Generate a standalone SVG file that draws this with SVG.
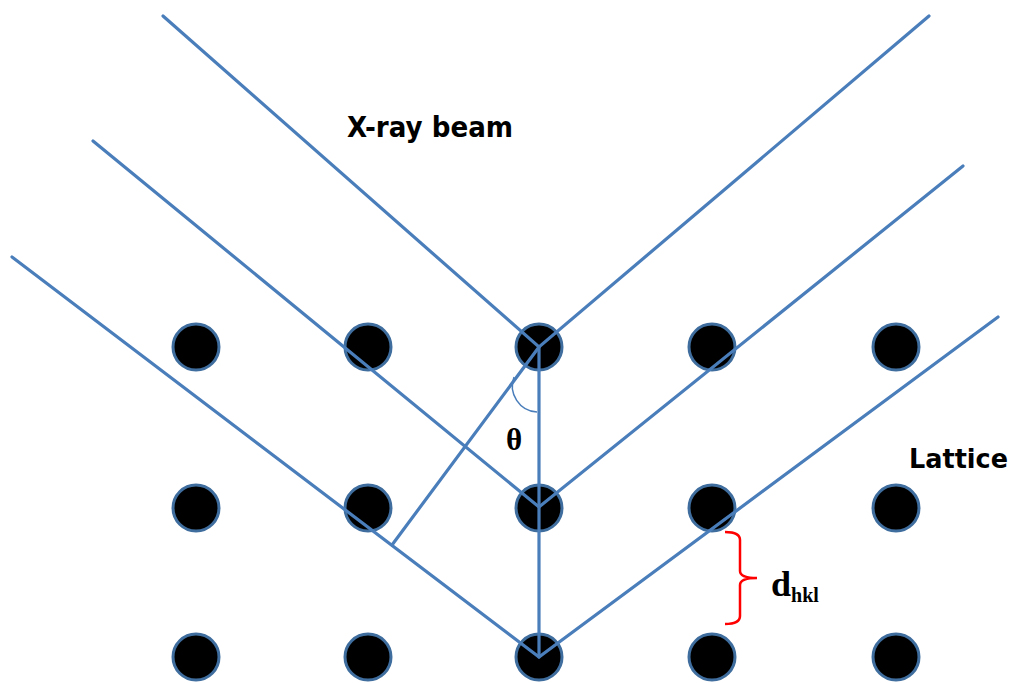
<svg xmlns="http://www.w3.org/2000/svg" width="1013" height="683" viewBox="0 0 1013 683">
<style>
.atom{fill:#000;stroke:#3F6E9E;stroke-width:3}
.ray{fill:none;stroke:#4A7EBB;stroke-width:3.2;stroke-linecap:round}
.lbl{font-family:"DejaVu Sans",sans-serif;font-weight:bold;fill:#000}
.ser{font-family:"Liberation Serif",serif;font-weight:bold;fill:#000}
</style>
<rect width="1013" height="683" fill="#fff"/>
<g id="atoms">
<circle id="a11" class="atom" cx="196" cy="347" r="23"/>
<circle id="a12" class="atom" cx="368" cy="347" r="23"/>
<circle id="a13" class="atom" cx="539" cy="347" r="23"/>
<circle id="a14" class="atom" cx="712" cy="347" r="23"/>
<circle id="a15" class="atom" cx="896" cy="347" r="23"/>
<circle id="a21" class="atom" cx="196" cy="508" r="23"/>
<circle id="a22" class="atom" cx="368" cy="508" r="23"/>
<circle id="a23" class="atom" cx="539" cy="508" r="23"/>
<circle id="a24" class="atom" cx="712" cy="508" r="23"/>
<circle id="a25" class="atom" cx="896" cy="508" r="23"/>
<circle id="a31" class="atom" cx="196" cy="657" r="23"/>
<circle id="a32" class="atom" cx="368" cy="657" r="23"/>
<circle id="a33" class="atom" cx="539" cy="657" r="23"/>
<circle id="a34" class="atom" cx="712" cy="657" r="23"/>
<circle id="a35" class="atom" cx="896" cy="657" r="23"/>
</g>
<g id="connectors">
<polyline class="ray" points="163,16 539,347 929,16"/>
<polyline class="ray" points="93,141 539,507 963,166"/>
<polyline class="ray" points="12,257 539,657 998,317"/>
<line class="ray" x1="539" y1="347" x2="539" y2="657"/>
<line class="ray" x1="392" y1="545" x2="539" y2="347"/>
<path d="M514 377 A26 26 0 0 0 537 412" fill="none" stroke="#4A7EBB" stroke-width="1.5"/>
<path d="M725 532 Q740 532 740 540 L740 571 Q740 578 757 578 Q740 578 740 585 L740 616 Q740 624 725 624" fill="none" stroke="#FF0000" stroke-width="2.5"/>
</g>
<g id="labels">
<text class="lbl" x="347" y="137" font-size="28" textLength="166" lengthAdjust="spacingAndGlyphs">X-ray beam</text>
<text class="lbl" x="909" y="468" font-size="26" textLength="99" lengthAdjust="spacingAndGlyphs">Lattice</text>
<text class="ser" x="506" y="450" font-size="31">θ</text>
<text class="ser" x="771" y="596" font-size="36">d<tspan font-size="20" dy="6">hkl</tspan></text>
</g>
</svg>
